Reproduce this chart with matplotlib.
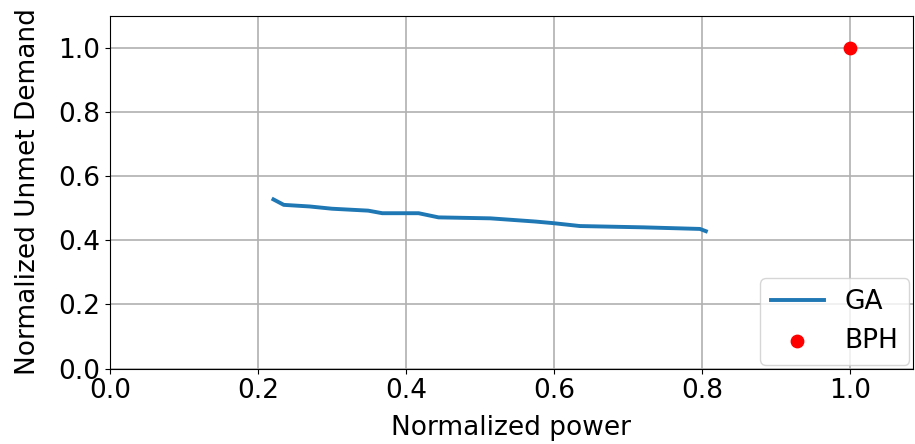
import matplotlib
matplotlib.use('Agg')
import matplotlib.pyplot as plt

ga_power = [0.221, 0.235, 0.27, 0.30, 0.349, 0.368, 0.417, 0.444, 0.514, 0.575, 0.599, 0.635, 0.72, 0.797, 0.805]
ga_unmet = [0.527, 0.510, 0.505, 0.498, 0.492, 0.484, 0.484, 0.471, 0.468, 0.458, 0.453, 0.444, 0.440, 0.435, 0.428]
bph_power = [1.0]
bph_unmet = [1.0]

plt.rcParams['font.size'] = 19
fig, ax = plt.subplots(figsize=(9.15, 4.44), dpi=100)
ax.plot(ga_power, ga_unmet, color='#1f77b4', linewidth=2.8, label='GA')
ax.scatter(bph_power, bph_unmet, color='red', s=80, zorder=3, label='BPH')
ax.set_xlim(0, 1.085)
ax.set_ylim(0, 1.1)
ax.set_xticks([0.0, 0.2, 0.4, 0.6, 0.8, 1.0])
ax.set_yticks([0.0, 0.2, 0.4, 0.6, 0.8, 1.0])
ax.grid(True, color='#b0b0b0', linewidth=1.2)
ax.set_xlabel('Normalized power', labelpad=8)
ax.set_ylabel('Normalized Unmet Demand', labelpad=12)
ax.legend(loc='lower right', borderaxespad=0.15)
fig.subplots_adjust(left=0.12, right=0.998, top=0.965, bottom=0.17)
plt.savefig('out.png')
